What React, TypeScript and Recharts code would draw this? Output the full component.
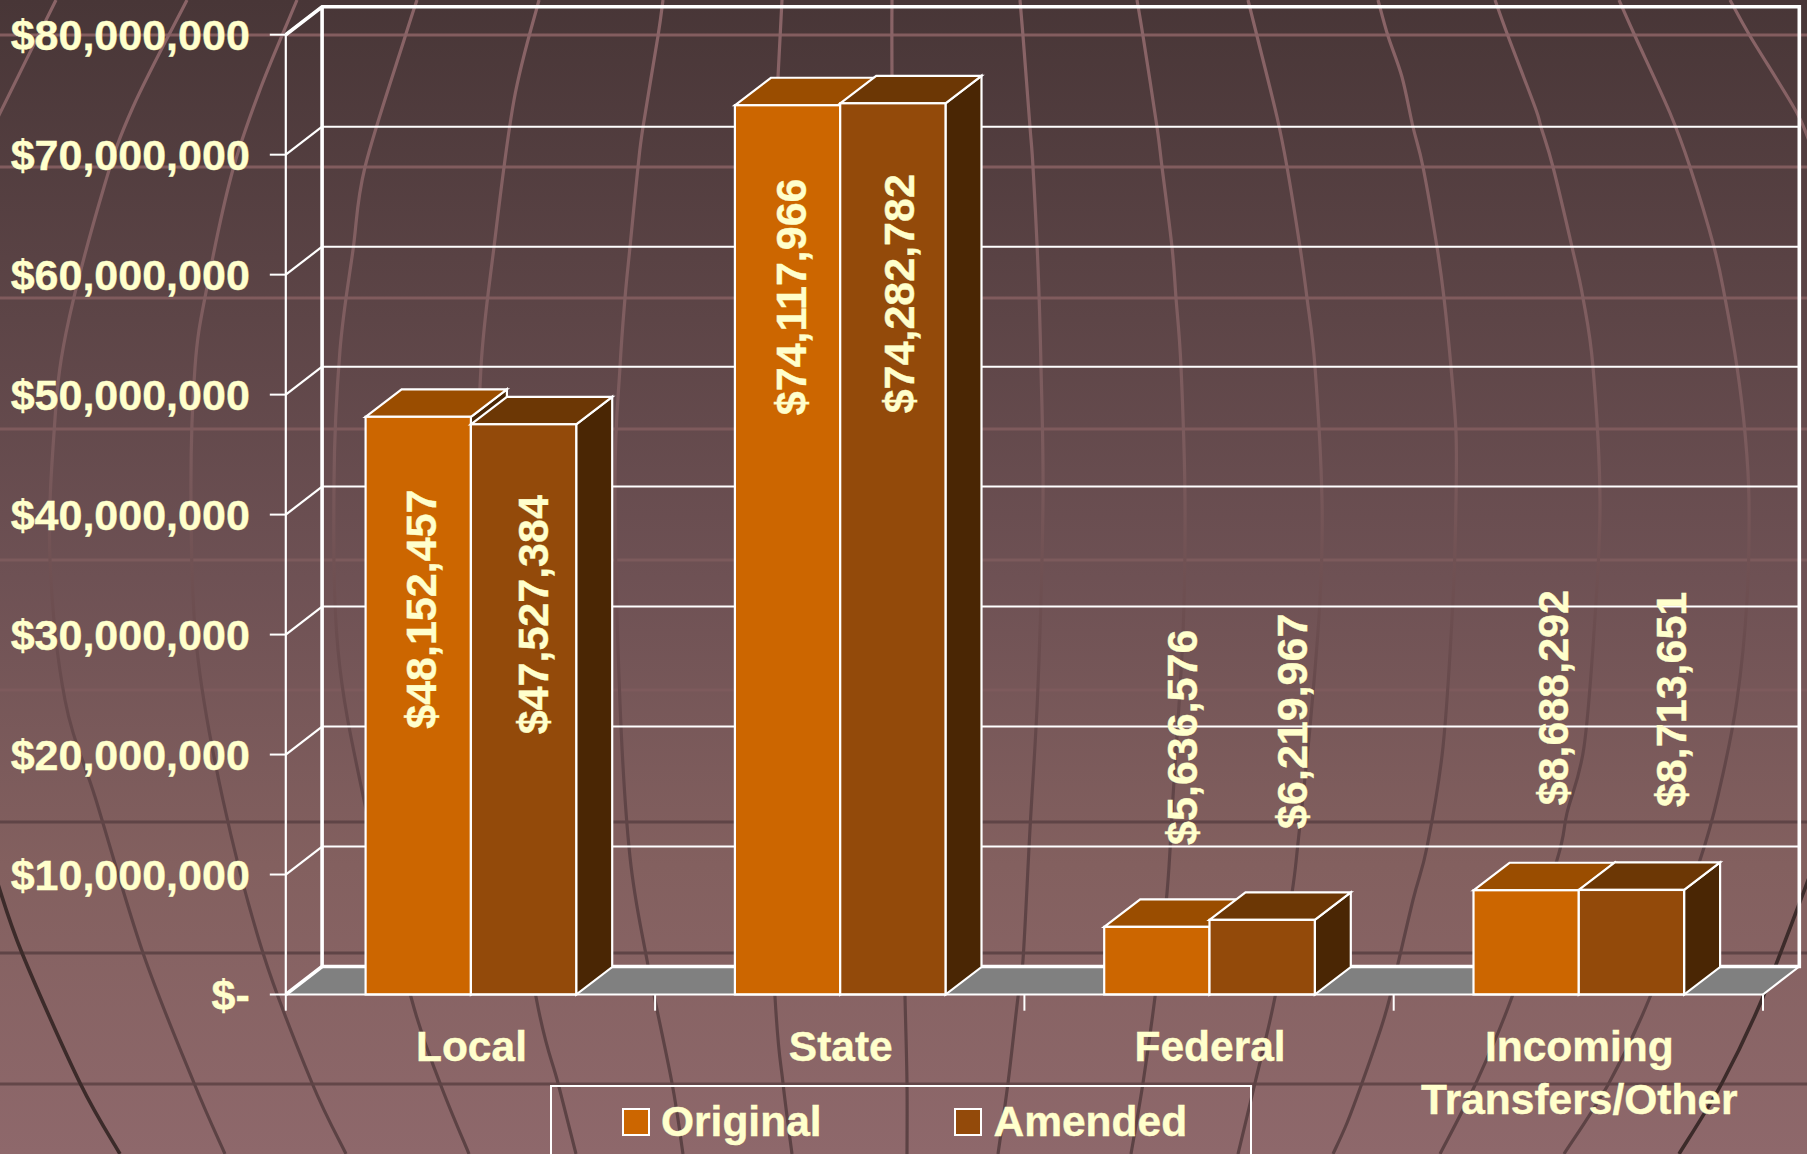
import React from "react";
import { BarChart, Bar, XAxis, YAxis, CartesianGrid, Legend, LabelList } from "recharts";

const categories = ["Local", "State", "Federal", "Incoming Transfers/Other"];
const originalValues = [48152457, 74117966, 5636576, 8688292];
const amendedValues = [47527384, 74282782, 6219967, 8713651];
const valueTicks = [0, 10000000, 20000000, 30000000, 40000000, 50000000, 60000000, 70000000, 80000000];

const data = categories.map((name, i) => ({ name, original: originalValues[i], amended: amendedValues[i] }));

// label placement relative to the bar's centre / top
const originalLabelDx = [19, 19, 41, 42.7];
const originalLabelDy = [312, 310, -82, -85];
const amendedLabelDx = [25.5, 22, 46, 55];
const amendedLabelDy = [310, 310, -91, -83];

const W = 1807;
const H = 1154;
const LEFT = 285.8;
const RIGHT = 1763;
const TOP = 34.7;
const BOTTOM = 994.5;
const DEPTH_X = 36.3;
const DEPTH_Y = 28;
const BAR_DX = 36;
const BAR_DY = 27.5;
const BAR_SHIFT = 0.8;
const BAND = (RIGHT - LEFT) / categories.length;
const FONT = "'Liberation Sans', Arial, sans-serif";
const TEXT = "#FFFFCC";
const WHITE = "#FFFFFF";
const ORANGE = "#CC6600";
const BROWN = "#934A0A";

// decorative globe behind the chart
const parallels = [
  { y: 35, c: "#835d5f" },
  { y: 167, c: "#815c5e" },
  { y: 298, c: "#805b5d" },
  { y: 429, c: "#7e5a5c" },
  { y: 560, c: "#7c5a5c" },
  { y: 690, c: "#7d5a5c" },
  { y: 822, c: "#5f4446" },
  { y: 953, c: "#5f4446" },
  { y: 1084, c: "#634648" },
];
const meridians: number[][][] = [
  [[56, 0], [0, 113], [-12, 140]],
  [[187, 0], [133, 107], [104, 187], [66, 333], [54, 433], [50, 560], [65, 700], [96, 800], [143, 953], [194, 1083], [225, 1154]],
  [[297, 0], [261, 87], [232, 173], [207, 287], [195, 367], [191, 500], [197, 650], [223, 800], [263, 953], [312, 1083], [346, 1154]],
  [[417, 0], [405, 37], [365, 167], [353, 250], [340, 350], [334, 483], [338, 650], [364, 800], [411, 997], [440, 1083], [469, 1154]],
  [[539, 0], [514, 100], [494, 247], [481, 367], [480, 500], [495, 750], [536, 997], [558, 1083], [576, 1154]],
  [[663, 0], [658, 36], [643, 127], [638, 167], [630, 247], [625, 298], [620, 367], [615, 480], [620, 703], [630, 857], [647, 960], [672, 1083], [683, 1154]],
  [[782, 0], [778, 77], [765, 300], [758, 500], [760, 700], [775, 997], [783, 1083], [792, 1154]],
  [[892, 0], [892, 77], [894, 400], [900, 800], [905, 997], [907, 1083], [907, 1154]],
  [[1020, 0], [1023, 36], [1030, 127], [1033, 167], [1038, 267], [1041, 367], [1043, 500], [1038, 686], [1030, 829], [1023, 960], [1018, 997], [1008, 1083], [998, 1154]],
  [[1137, 0], [1143, 36], [1157, 127], [1162, 167], [1172, 247], [1176, 298], [1181, 367], [1185, 500], [1183, 633], [1173, 797], [1167, 893], [1155, 997], [1143, 1083], [1131, 1154]],
  [[1248, 0], [1257, 36], [1277, 117], [1287, 167], [1300, 247], [1307, 298], [1315, 367], [1322, 500], [1320, 600], [1310, 727], [1298, 843], [1292, 893], [1275, 997], [1255, 1083], [1238, 1154]],
  [[1378, 0], [1388, 36], [1402, 77], [1413, 127], [1423, 167], [1437, 247], [1444, 298], [1451, 367], [1456, 433], [1456, 500], [1453, 600], [1443, 747], [1427, 847], [1413, 900], [1390, 997], [1378, 1037], [1362, 1083], [1347, 1123], [1333, 1154]],
  [[1495, 0], [1508, 36], [1535, 107], [1541, 127], [1553, 167], [1572, 247], [1583, 298], [1593, 367], [1600, 500], [1595, 617], [1584, 747], [1567, 813], [1557, 860], [1512, 997], [1476, 1083], [1440, 1154]],
  [[1619, 0], [1635, 36], [1670, 113], [1690, 167], [1714, 247], [1725, 298], [1737, 367], [1745, 433], [1749, 500], [1747, 600], [1737, 700], [1720, 787], [1700, 860], [1650, 997], [1609, 1083], [1564, 1154]],
  [[1730, 0], [1750, 36], [1797, 113], [1812, 150]],
];
const darkMeridians: number[][][] = [
  [[-4, 878], [22, 953], [80, 1083], [120, 1154]],
  [[1812, 870], [1763, 997], [1722, 1083], [1679, 1154]],
];

function smoothPath(pts: number[][]) {
  let d = `M${pts[0][0]},${pts[0][1]}`;
  for (let i = 0; i < pts.length - 1; i++) {
    const p0 = pts[Math.max(i - 1, 0)];
    const p1 = pts[i];
    const p2 = pts[i + 1];
    const p3 = pts[Math.min(i + 2, pts.length - 1)];
    const c1x = p1[0] + (p2[0] - p0[0]) / 6;
    const c1y = p1[1] + (p2[1] - p0[1]) / 6;
    const c2x = p2[0] - (p3[0] - p1[0]) / 6;
    const c2y = p2[1] - (p3[1] - p1[1]) / 6;
    d += ` C${c1x},${c1y} ${c2x},${c2y} ${p2[0]},${p2[1]}`;
  }
  return d;
}

function Globe() {
  return (
    <svg width={W} height={H} style={{ position: "absolute", left: 0, top: 0 }}>
      <defs>
        <linearGradient id="bgFill" x1="0" y1="0" x2="0" y2="1">
          <stop offset="0" stopColor="#483637" />
          <stop offset="0.5" stopColor="#6e5154" />
          <stop offset="0.75" stopColor="#83605f" />
          <stop offset="1" stopColor="#8e686b" />
        </linearGradient>
        <linearGradient id="lineFill" gradientUnits="userSpaceOnUse" x1="0" y1="0" x2="0" y2={H}>
          <stop offset="0" stopColor="#8a6467" />
          <stop offset="0.4" stopColor="#7a5a5c" />
          <stop offset="0.5" stopColor="#6f5052" />
          <stop offset="0.7" stopColor="#5f4446" />
          <stop offset="1" stopColor="#5c4244" />
        </linearGradient>
      </defs>
      <rect x={0} y={0} width={W} height={H} fill="url(#bgFill)" />
      {parallels.map((p) => (
        <line key={p.y} x1={0} x2={W} y1={p.y} y2={p.y} stroke={p.c} strokeWidth={3} />
      ))}
      {meridians.map((m, i) => (
        <path key={i} d={smoothPath(m)} fill="none" stroke="url(#lineFill)" strokeWidth={3.2} />
      ))}
      {darkMeridians.map((m, i) => (
        <path key={i} d={smoothPath(m)} fill="none" stroke="#3c2b2a" strokeWidth={3.6} />
      ))}
    </svg>
  );
}

function WallFrame() {
  const bx0 = LEFT + DEPTH_X;
  const bx1 = RIGHT + DEPTH_X;
  const by0 = TOP - DEPTH_Y;
  const by1 = BOTTOM - DEPTH_Y;
  return (
    <g>
      <polygon points={`${LEFT},${BOTTOM} ${bx0},${by1} ${bx1},${by1} ${RIGHT},${BOTTOM}`} fill="#808080" />
      <path d={`M${LEFT},${TOP} L${bx0},${by0} L${bx1},${by0} L${bx1},${by1} L${bx0},${by1} L${bx0},${by0}`} fill="none" stroke={WHITE} strokeWidth={3.6} />
      <line x1={LEFT} y1={BOTTOM} x2={bx0} y2={by1} stroke={WHITE} strokeWidth={3.6} />
      <line x1={RIGHT} y1={BOTTOM} x2={bx1} y2={by1} stroke={WHITE} strokeWidth={2.2} />
    </g>
  );
}

function GridLine(props: any) {
  const { x1, x2, y1 } = props;
  return (
    <g>
      <line x1={x1} y1={y1} x2={x1 + DEPTH_X} y2={y1 - DEPTH_Y} stroke={WHITE} strokeWidth={2.2} />
      <line x1={x1 + DEPTH_X} y1={y1 - DEPTH_Y} x2={x2 + DEPTH_X} y2={y1 - DEPTH_Y} stroke={WHITE} strokeWidth={2} />
    </g>
  );
}

function Bar3D(props: any) {
  const { y, width, height, fill, topFill } = props;
  const x = props.x + BAR_SHIFT;
  const r = x + width;
  const b = y + height;
  return (
    <g stroke={WHITE} strokeWidth={2.2} strokeLinejoin="miter">
      <polygon points={`${r},${y} ${r + BAR_DX},${y - BAR_DY} ${r + BAR_DX},${b - BAR_DY} ${r},${b}`} fill="#4A2604" />
      <polygon points={`${x},${y} ${x + BAR_DX},${y - BAR_DY} ${r + BAR_DX},${y - BAR_DY} ${r},${y}`} fill={topFill} />
      <rect x={x} y={y} width={width} height={height} fill={fill} />
    </g>
  );
}

const barLabel = (dxs: number[], dys: number[]) => (props: any) => {
  const { x, y, width, value, index } = props;
  const lx = x + width / 2 + dxs[index];
  const ly = y + dys[index];
  return (
    <text
      x={lx}
      y={ly}
      transform={`rotate(-90 ${lx} ${ly})`}
      textAnchor="start"
      fontFamily={FONT}
      fontWeight="bold"
      fontSize={43}
      fill={TEXT}
      stroke={TEXT}
      strokeWidth={0.4}
    >
      {"$" + Number(value).toLocaleString("en-US")}
    </text>
  );
};

function YTick(props: any) {
  const { x, y, payload } = props;
  const v = payload.value;
  return (
    <text x={x} y={y + 15} textAnchor="end" fontFamily={FONT} fontWeight="bold" fontSize={43} fill={TEXT} stroke={TEXT} strokeWidth={0.4}>
      {v === 0 ? "$-" : "$" + v.toLocaleString("en-US")}
    </text>
  );
}

function XTick(props: any) {
  const { x, payload, index } = props;
  const lines = String(payload.value).split(" ");
  const left = x - BAND / 2;
  return (
    <g>
      <line x1={left} x2={left} y1={BOTTOM} y2={1010.7} stroke={WHITE} strokeWidth={2} />
      {index === categories.length - 1 && (
        <line x1={left + BAND} x2={left + BAND} y1={BOTTOM} y2={1010.7} stroke={WHITE} strokeWidth={2} />
      )}
      <text textAnchor="middle" fontFamily={FONT} fontWeight="bold" fontSize={42.5} fill={TEXT} stroke={TEXT} strokeWidth={0.4}>
        {lines.map((t, i) => (
          <tspan key={i} x={x + 1} y={1060.7 + i * 53.4}>
            {t}
          </tspan>
        ))}
      </text>
    </g>
  );
}

const legendSwatchLeft = [70, 402];
const legendTextLeft = [109, 441.5];

function LegendContent(props: any) {
  const items = props.payload || [];
  return (
    <div style={{ position: "relative", width: "100%", height: "100%" }}>
      {items.map((it: any, i: number) => (
        <React.Fragment key={it.value}>
          <div
            style={{
              position: "absolute",
              left: legendSwatchLeft[i],
              top: 21,
              width: 27.5,
              height: 27.5,
              boxSizing: "border-box",
              background: it.color,
              border: `2px solid ${WHITE}`,
            }}
          />
          <div
            style={{
              position: "absolute",
              left: legendTextLeft[i],
              top: 10.5,
              lineHeight: "48px",
              whiteSpace: "nowrap",
              fontFamily: FONT,
              fontWeight: "bold",
              fontSize: 42.5,
              color: TEXT,
              WebkitTextStroke: `0.4px ${TEXT}`,
            }}
          >
            {it.value}
          </div>
        </React.Fragment>
      ))}
    </div>
  );
}

export default function App() {
  return (
    <div style={{ position: "absolute", left: 0, top: 0, width: W, height: H, overflow: "hidden" }}>
      <Globe />
      <div style={{ position: "absolute", left: 0, top: 0 }}>
        <BarChart
          width={W}
          height={H}
          data={data}
          margin={{ left: 0, top: TOP, right: W - RIGHT, bottom: 0 }}
          barSize={105.3}
          barGap={0}
        >
          <WallFrame />
          <CartesianGrid vertical={false} horizontal={(p: any) => <GridLine key={p.y1} {...p} />} stroke={WHITE} fill="none" />
          <XAxis
            dataKey="name"
            height={H - BOTTOM}
            interval={0}
            axisLine={{ stroke: WHITE, strokeWidth: 2 }}
            tickLine={false}
            tick={<XTick />}
          />
          <YAxis
            width={LEFT}
            domain={[0, 80000000]}
            ticks={valueTicks}
            interval={0}
            axisLine={{ stroke: WHITE, strokeWidth: 2.2 }}
            tickLine={{ stroke: WHITE, strokeWidth: 2 }}
            tickSize={16}
            tickMargin={20}
            tick={<YTick />}
          />
          <Legend
            layout="horizontal"
            verticalAlign="middle"
            itemSorter={null as any}
            content={<LegendContent />}
            wrapperStyle={{
              left: 550,
              top: 1085,
              width: 702,
              height: 100,
              boxSizing: "border-box",
              border: `2px solid ${WHITE}`,
            }}
          />
          <Bar
            dataKey="original"
            name="Original"
            fill={ORANGE}
            isAnimationActive={false}
            shape={(p: any) => <Bar3D {...p} topFill="#9A4D00" />}
          >
            <LabelList dataKey="original" content={barLabel(originalLabelDx, originalLabelDy)} />
          </Bar>
          <Bar
            dataKey="amended"
            name="Amended"
            fill={BROWN}
            isAnimationActive={false}
            shape={(p: any) => <Bar3D {...p} topFill="#6C3705" />}
          >
            <LabelList dataKey="amended" content={barLabel(amendedLabelDx, amendedLabelDy)} />
          </Bar>
        </BarChart>
      </div>
    </div>
  );
}
